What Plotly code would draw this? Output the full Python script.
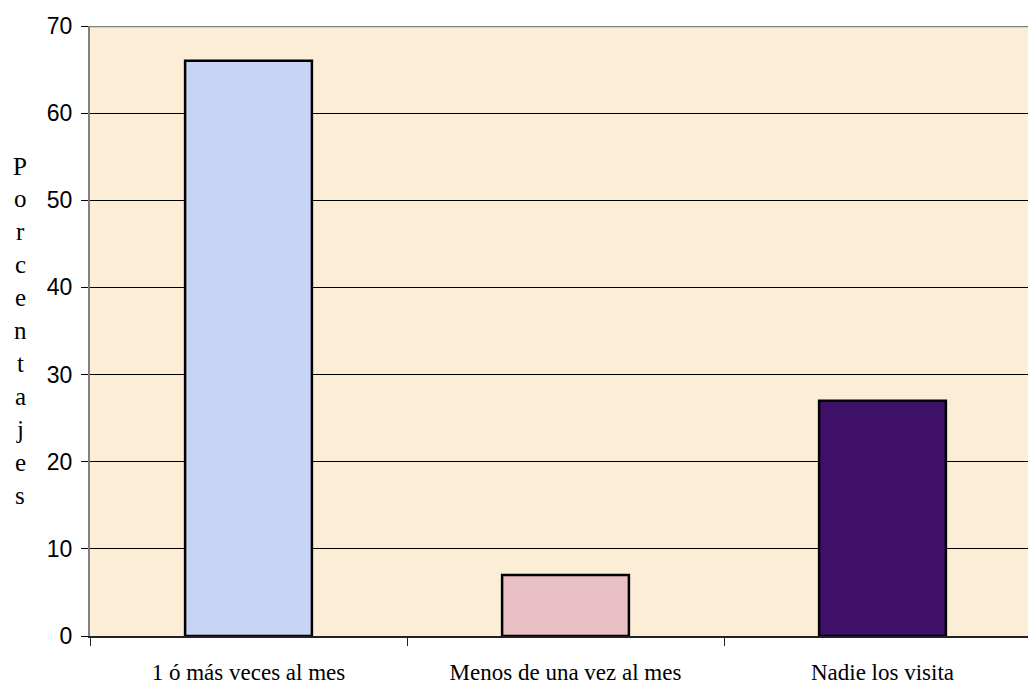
import plotly.graph_objects as go

# Frecuencia de visitas (porcentajes)
categorias = ["1 ó más veces al mes", "Menos de una vez al mes", "Nadie los visita"]
porcentajes = [66, 7, 27]
colores = ["#C7D4F4", "#E8C0C6", "#3F1068"]
titulo_y = "Porcentajes"
ticks_y = [0, 10, 20, 30, 40, 50, 60, 70]

W, H = 1028, 686
ML, MR, MT, MB = 90, 0, 26, 50
plot_h = H - MT - MB

fig = go.Figure()
fig.add_trace(go.Bar(
    x=categorias,
    y=porcentajes,
    width=0.4,
    marker=dict(color=colores, line=dict(color="#000000", width=2.5)),
    hoverinfo="x+y",
))

serif = "Liberation Serif, Times New Roman, serif"
sans = "Liberation Sans, Arial, sans-serif"

# vertical axis title written one letter per line
annotations = []
for i, ch in enumerate(titulo_y):
    ypix = 166 + 32.9 * i
    annotations.append(dict(
        text=ch, xref="paper", yref="paper",
        x=(20 - ML) / (W - ML - MR), y=(H - MB - ypix) / plot_h,
        xanchor="center", yanchor="middle", showarrow=False,
        font=dict(family=serif, size=25, color="#000000"),
    ))

# grey frame line along the top of the plot area
shapes = [dict(type="line", xref="paper", yref="y", x0=0, x1=1, y0=70, y1=70,
               line=dict(color="#808080", width=2.5), layer="above")]

fig.update_layout(
    width=W, height=H,
    margin=dict(l=ML, r=MR, t=MT, b=MB, pad=0),
    paper_bgcolor="#FFFFFF",
    plot_bgcolor="#FCEDD6",
    showlegend=False,
    bargap=0.6,
    annotations=annotations,
    shapes=shapes,
    xaxis=dict(
        type="category",
        range=[-0.5, -0.5 + (W - ML - MR) / 317.0],
        tickson="boundaries",
        ticks="outside", ticklen=8, tickwidth=1, tickcolor="#222222",
        showline=True, linecolor="#222222", linewidth=1.5,
        showgrid=False, zeroline=False,
        tickfont=dict(family=serif, size=23, color="#000000"),
        ticklabelstandoff=15,
    ),
    yaxis=dict(
        range=[0, 70],
        tickvals=ticks_y,
        ticks="outside", ticklen=7, tickwidth=1, tickcolor="#000000",
        showline=True, linecolor="#808080", linewidth=2,
        showgrid=True, gridcolor="#000000", gridwidth=1,
        zeroline=False,
        tickfont=dict(family=sans, size=23, color="#000000"),
        ticklabelstandoff=4,
    ),
)

fig.write_html("out.html")
